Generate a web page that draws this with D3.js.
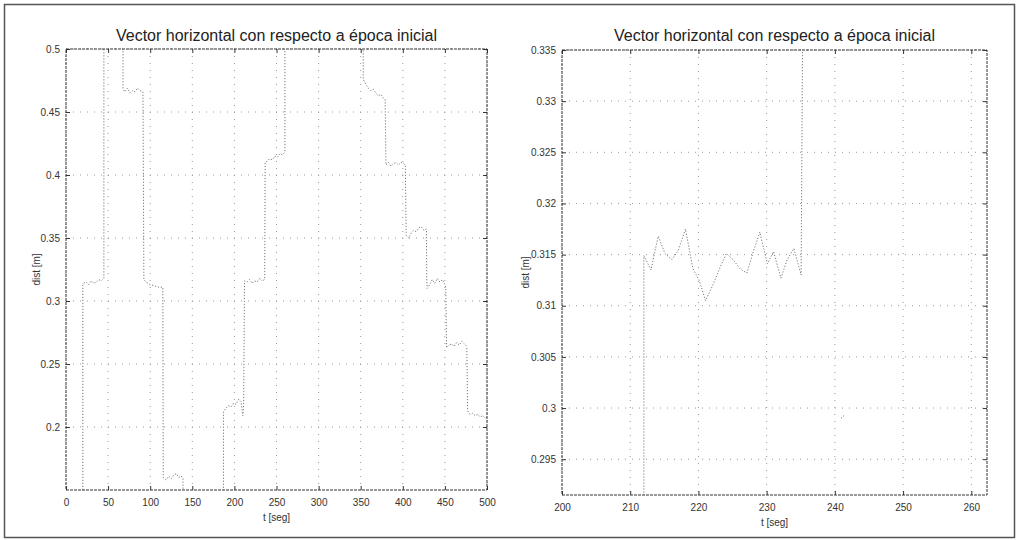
<!DOCTYPE html>
<html>
<head>
<meta charset="utf-8">
<script src="https://cdn.jsdelivr.net/npm/d3@7"></script>
<style>
  body { margin: 0; background: #fff; }
  text { font-family: "Liberation Sans", Arial, sans-serif; }
</style>
</head>
<body>
<div id="chart"></div>
<script>
// Data
var titleText = "Vector horizontal con respecto a época inicial";
var yLabelText = "dist [m]";
var xLabelText = "t [seg]";

// left panel: whole record, t in seconds, dist in metres (values outside the axes get clipped)
var leftT = [20, 20, 21, 24, 27, 30, 33, 36, 39, 42, 45, 45,
  67.7, 67.7, 70, 73, 76, 79, 82, 85, 88, 91.4,
  92.5, 95, 100, 105, 110, 115,
  115.5, 119, 122, 125, 128, 131, 134, 137, 139, 139,
  187, 187, 190, 193, 196, 199, 202, 205, 208, 210, 211,
  212, 215, 218, 221, 224, 227, 230, 233, 236,
  236.5, 239, 242, 245, 248, 251, 254, 257, 260, 260,
  353, 353, 356, 359, 362, 365, 368, 371, 374, 377, 379,
  380, 383, 386, 389, 392, 395, 398, 401, 403,
  404, 407, 410, 413, 416, 419, 422, 425, 428,
  428.5, 429, 432, 435, 438, 441, 444, 447, 450, 451,
  452, 455, 458, 461, 464, 467, 470, 473, 476,
  477, 480, 483, 486, 489, 492, 495, 498, 500];
var leftD = [0.10, 0.313, 0.314, 0.315, 0.313, 0.316, 0.314, 0.315, 0.317, 0.316, 0.318, 0.56,
  0.56, 0.468, 0.466, 0.469, 0.465, 0.467, 0.466, 0.469, 0.467, 0.466,
  0.317, 0.315, 0.313, 0.312, 0.311, 0.311,
  0.160, 0.158, 0.161, 0.159, 0.162, 0.163, 0.160, 0.161, 0.159, 0.10,
  0.10, 0.212, 0.215, 0.217, 0.216, 0.219, 0.218, 0.222, 0.220, 0.209, 0.218,
  0.316, 0.315, 0.317, 0.314, 0.316, 0.315, 0.318, 0.316, 0.317,
  0.410, 0.411, 0.413, 0.412, 0.415, 0.414, 0.417, 0.416, 0.418, 0.56,
  0.56, 0.476, 0.472, 0.469, 0.467, 0.468, 0.465, 0.463, 0.464, 0.461, 0.460,
  0.408, 0.410, 0.407, 0.409, 0.410, 0.408, 0.410, 0.409, 0.408,
  0.352, 0.350, 0.354, 0.356, 0.355, 0.358, 0.359, 0.356, 0.357,
  0.316, 0.310, 0.313, 0.317, 0.314, 0.318, 0.315, 0.317, 0.313, 0.311,
  0.263, 0.265, 0.266, 0.264, 0.267, 0.265, 0.268, 0.266, 0.264,
  0.213, 0.210, 0.211, 0.209, 0.210, 0.208, 0.209, 0.207, 0.208];

// right panel: zoom on 200..262 s
var rightT = [212, 212, 213.05, 214.1, 215.1, 216.1, 217.05, 218.1, 219.2, 220.1, 221.05,
  222.1, 223.2, 224.1, 225.1, 226.1, 227.1, 228.05, 229.0, 230.1, 231.0,
  232.1, 233.0, 234.0, 235.05, 235.3];
var rightD = [0.28, 0.3149, 0.3135, 0.3168, 0.3151, 0.3145, 0.3154, 0.3175, 0.3136, 0.3125, 0.3105,
  0.3120, 0.3138, 0.3151, 0.3145, 0.3136, 0.3132, 0.3153, 0.3172, 0.3141, 0.3153,
  0.3127, 0.3145, 0.3156, 0.3130, 0.34];
var rightExtraT = [240.9, 241.4];
var rightExtraD = [0.2990, 0.2993];

var leftXTicks = [0, 50, 100, 150, 200, 250, 300, 350, 400, 450, 500];
var leftYTicks = [0.2, 0.25, 0.3, 0.35, 0.4, 0.45, 0.5];
var rightXTicks = [200, 210, 220, 230, 240, 250, 260];
var rightYTicks = [0.295, 0.3, 0.305, 0.31, 0.315, 0.32, 0.325, 0.33, 0.335];

var width = 1018;
var height = 540;

var svg = d3.select("#chart")
  .append("svg")
  .attr("width", width)
  .attr("height", height);

// scan frame
svg.append("rect")
  .attr("x", 4.5).attr("y", 4.5)
  .attr("width", 1010).attr("height", 533)
  .attr("fill", "none")
  .attr("stroke", "#555")
  .attr("stroke-width", 1.5);

function zip(ts, ds) {
  return ts.map(function(t, i) { return [t, ds[i]]; });
}

function drawPanel(p) {
  var x = d3.scaleLinear().domain(p.xDomain).range([p.left, p.right]);
  var y = d3.scaleLinear().domain(p.yDomain).range([p.bottom, p.top]);
  var g = svg.append("g");

  g.append("clipPath").attr("id", p.id)
    .append("rect")
    .attr("x", p.left).attr("y", p.top)
    .attr("width", p.right - p.left).attr("height", p.bottom - p.top);

  // dotted grid
  g.selectAll(".gx").data(p.xTicks).enter().append("line")
    .attr("x1", function(d) { return x(d); }).attr("x2", function(d) { return x(d); })
    .attr("y1", p.top).attr("y2", p.bottom)
    .attr("stroke", "#999").attr("stroke-dasharray", "1,6");
  g.selectAll(".gy").data(p.yTicks).enter().append("line")
    .attr("y1", function(d) { return y(d); }).attr("y2", function(d) { return y(d); })
    .attr("x1", p.left).attr("x2", p.right)
    .attr("stroke", "#999").attr("stroke-dasharray", "1,6");

  // data
  var line = d3.line().x(function(d) { return x(d[0]); }).y(function(d) { return y(d[1]); });
  p.series.forEach(function(s) {
    g.append("path")
      .datum(s)
      .attr("clip-path", "url(#" + p.id + ")")
      .attr("d", line)
      .attr("fill", "none")
      .attr("stroke", "#777")
      .attr("stroke-width", 1)
      .attr("stroke-dasharray", "1.2,1.8");
  });

  // axes box
  g.append("rect")
    .attr("x", p.left).attr("y", p.top)
    .attr("width", p.right - p.left).attr("height", p.bottom - p.top)
    .attr("fill", "none")
    .attr("stroke", "#333")
    .attr("stroke-dasharray", "3,1");

  // inward ticks on all sides
  var xb = d3.axisBottom(x).tickValues(p.xTicks).tickSize(-4).tickPadding(9).tickFormat(d3.format("d"));
  var yl = d3.axisLeft(y).tickValues(p.yTicks).tickSize(-4).tickPadding(6).tickFormat(function(d) { return +d.toFixed(3); });
  var xt = d3.axisTop(x).tickValues(p.xTicks).tickSize(-4).tickFormat("");
  var yr = d3.axisRight(y).tickValues(p.yTicks).tickSize(-4).tickFormat("");
  [[xb, "translate(0," + p.bottom + ")"], [yl, "translate(" + p.left + ",0)"],
   [xt, "translate(0," + p.top + ")"], [yr, "translate(" + p.right + ",0)"]].forEach(function(a) {
    var ax = g.append("g").attr("transform", a[1]).call(a[0]);
    ax.select(".domain").remove();
    ax.selectAll("line").attr("stroke", "#333");
    ax.selectAll("text").attr("fill", "#333").style("font-size", "10px");
  });

  g.append("text")
    .attr("x", (p.left + p.right) / 2).attr("y", 41)
    .attr("text-anchor", "middle")
    .style("font-size", "16px").attr("fill", "#222")
    .text(titleText);

  g.append("text")
    .attr("x", (p.left + p.right) / 2).attr("y", p.bottom + 31)
    .attr("text-anchor", "middle")
    .style("font-size", "10px").attr("fill", "#333")
    .text(xLabelText);

  g.append("text")
    .attr("transform", "translate(" + p.yLabelX + "," + ((p.top + p.bottom) / 2) + ") rotate(-90)")
    .attr("text-anchor", "middle")
    .style("font-size", "10px").attr("fill", "#333")
    .text(yLabelText);
}

drawPanel({
  id: "clipL", left: 66, right: 487, top: 49, bottom: 490,
  xDomain: [0, 500], yDomain: [0.15, 0.5],
  xTicks: leftXTicks, yTicks: leftYTicks, yLabelX: 40,
  series: [zip(leftT, leftD)]
});

drawPanel({
  id: "clipR", left: 562, right: 987, top: 50, bottom: 495,
  xDomain: [200, 262.3], yDomain: [0.2915, 0.335],
  xTicks: rightXTicks, yTicks: rightYTicks, yLabelX: 529,
  series: [zip(rightT, rightD), zip(rightExtraT, rightExtraD)]
});
</script>
</body>
</html>
